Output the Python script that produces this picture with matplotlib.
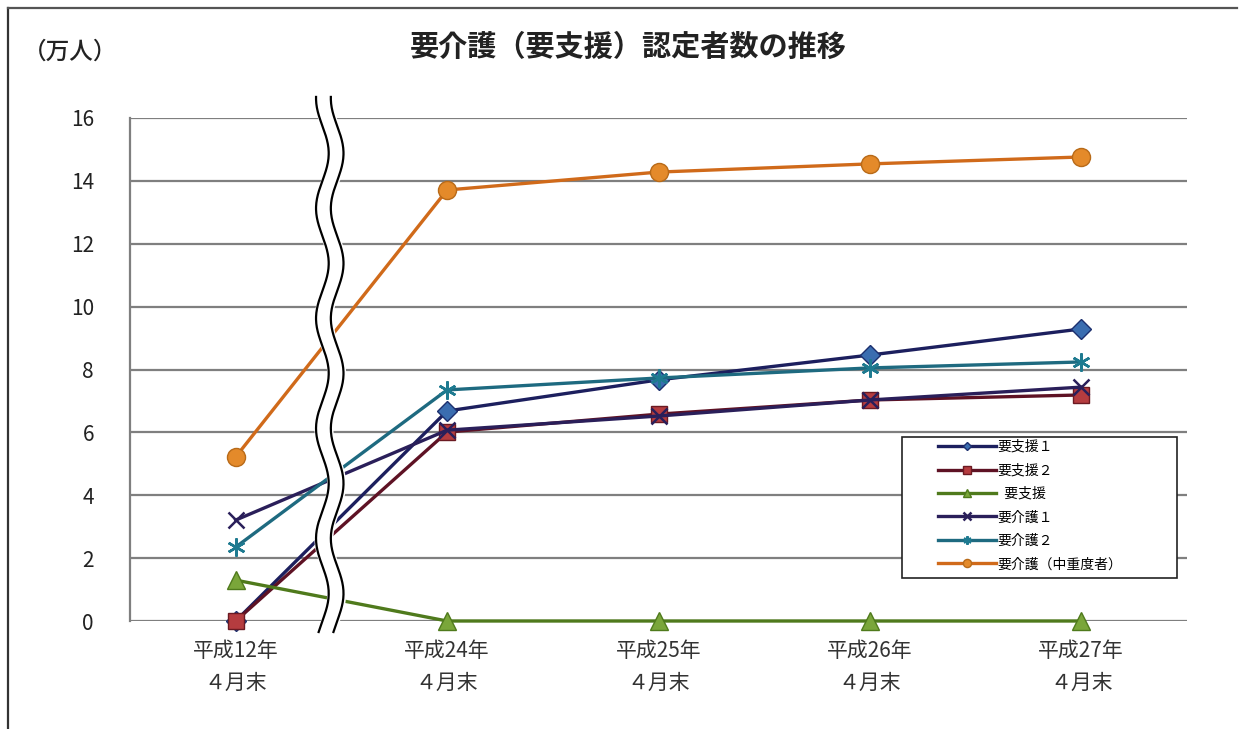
import numpy as np
import matplotlib.pyplot as plt
from matplotlib.lines import Line2D
from matplotlib.patches import Rectangle

plt.rcParams['font.family'] = ['Noto Sans CJK JP', 'DejaVu Sans']

categories = ['平成12年\n４月末', '平成24年\n４月末', '平成25年\n４月末', '平成26年\n４月末', '平成27年\n４月末']
yoshien1 = [0.0, 6.68, 7.67, 8.46, 9.29]
yoshien2 = [0.0, 6.01, 6.58, 7.03, 7.19]
yoshien = [1.30, 0.0, 0.0, 0.0, 0.0]
yokaigo1 = [3.21, 6.07, 6.52, 7.03, 7.44]
yokaigo2 = [2.35, 7.35, 7.73, 8.05, 8.24]
chujudo = [5.22, 13.71, 14.28, 14.54, 14.76]
yticks = [0, 2, 4, 6, 8, 10, 12, 14, 16]

W, H = 1245, 729
fig = plt.figure(figsize=(W / 100, H / 100), dpi=100)
ax = fig.add_axes([130 / W, 1 - 621 / H, (1187 - 130) / W, (621 - 118) / H])

x = np.arange(len(categories))
series = [
    ('要支援１', yoshien1, '#1c1f5e', 'D', '#3a6db0', '#1c2f6e', 10),
    ('要支援２', yoshien2, '#5e1224', 's', '#b53c3f', '#6b1a22', 12),
    ('  要支援', yoshien, '#4f7a1c', '^', '#7aa63a', '#4f7a1c', 13),
    ('要介護１', yokaigo1, '#2a1f5a', 'x', '#2a1f5a', '#2a1f5a', 12),
    ('要介護２', yokaigo2, '#1e6a80', (6, 2, 0), '#1e7a90', '#1e7a90', 13),
    ('要介護（中重度者）', chujudo, '#d06a1a', 'o', '#e48a2a', '#b86a18', 13),
]
handles = []
for i, (lab, vals, lc, mk, mfc, mec, ms) in enumerate(series):
    ln, = ax.plot(x, vals, color=lc, lw=2.4, marker=mk, markersize=ms,
                  markerfacecolor=mfc, markeredgecolor=mec,
                  markeredgewidth=1.8 if mk in ('x', (6, 2, 0)) else 1.0,
                  label=lab, zorder=3 + i, clip_on=False)
    handles.append(ln)

ax.set_xlim(-0.5, len(categories) - 0.5)
ax.set_ylim(0, 16)
ax.set_yticks(yticks)
ax.set_xticks(x)
ax.set_xticklabels(categories, fontsize=15, color='#333333', linespacing=1.55)
ax.tick_params(axis='y', length=0, pad=26, labelsize=15, labelcolor='#222222')
ax.tick_params(axis='x', length=0, pad=14)
ax.grid(axis='y', color='#7f7f7f', lw=1.6)
ax.set_axisbelow(True)
for s in ['top', 'right', 'bottom']:
    ax.spines[s].set_visible(False)
ax.spines['left'].set_color('#7f7f7f')
ax.spines['left'].set_linewidth(1.6)

# axis break marker
yy = np.linspace(16.67, -0.35, 400)
amp = 0.030
period = 3.5
xb = 0.445
w1 = xb - 0.035 + amp * np.sin(2 * np.pi * yy / period)
w2 = xb + 0.035 + amp * np.sin(2 * np.pi * yy / period)
ax.fill_betweenx(yy, w1 - 0.01, w2 + 0.01, color='white', zorder=20, clip_on=False, lw=0)
ax.plot(w1, yy, color='black', lw=1.6, zorder=21, clip_on=False)
ax.plot(w2, yy, color='black', lw=1.6, zorder=21, clip_on=False)

# legend box
bx0, bx1, by0, by1 = 902, 1177, 437, 578
ax.add_patch(Rectangle(((bx0 - 130) / 1057, (621 - by1) / 503), (bx1 - bx0) / 1057, (by1 - by0) / 503,
                       transform=ax.transAxes, facecolor='white', edgecolor='#222222', lw=1.2,
                       zorder=29, clip_on=False))
leg = ax.legend(handles=handles, loc='upper left', bbox_to_anchor=((938 - 130) / 1057, (621 - 440) / 503),
                fontsize=10, frameon=False, handlelength=4.2, markerscale=0.45, labelspacing=0.68,
                borderpad=0, handletextpad=0.1, borderaxespad=0)
leg.set_zorder(30)

fig.text(628 / W, 1 - 47 / H, '要介護（要支援）認定者数の推移', ha='center', va='center',
         fontsize=21, fontweight='bold', color='#222222')
fig.text(70 / W, 1 - 52 / H, '（万人）', ha='center', va='center', fontsize=17,
         fontweight='medium', color='#222222')

fig.add_artist(Line2D([8 / W, 8 / W], [0, 1 - 8 / H], transform=fig.transFigure, color='#333333', lw=1.6))
fig.add_artist(Line2D([8 / W, 1237 / W], [1 - 8 / H, 1 - 8 / H], transform=fig.transFigure, color='#555555', lw=1.6))

fig.savefig('out.png', dpi=100)
